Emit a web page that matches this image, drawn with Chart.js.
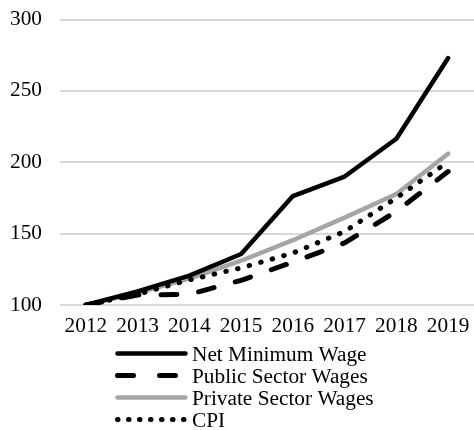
<!DOCTYPE html>
<html><head><meta charset="utf-8">
<script src="https://cdn.jsdelivr.net/npm/chart.js@4.4.1/dist/chart.umd.min.js"></script>
<style>html,body{margin:0;padding:0;background:#fff;overflow:hidden}#wrap{width:474px;height:430px;position:relative}</style>
</head><body><div id="wrap"><canvas id="c" width="474" height="430"></canvas></div>
<script>
const years = ['2012','2013','2014','2015','2016','2017','2018','2019'];
const netMinimumWage = [100, 109.5, 120.6, 135.7, 176.3, 190, 216.5, 273];
const publicSectorWages = [100, 107, 107.5, 117.3, 130, 143.5, 165.5, 193.5];
const privateSectorWages = [100, 108.5, 118.5, 131, 145.4, 161.2, 177.8, 206];
const cpi = [100, 107.5, 117.6, 126, 136.4, 151.5, 175, 200.3];
const seriesNames = ['Net Minimum Wage', 'Public Sector Wages', 'Private Sector Wages', 'CPI'];
const yMin = 100, yMax = 300, yStep = 50;

const FONT = '"Liberation Serif", "Times New Roman", serif';
const FSIZE = 21.3;

const legendPlugin = {
  id: 'vlegend',
  afterDraw(chart) {
    const ctx = chart.ctx;
    const x0 = 117.5, x1 = 185.5, tx = 192;
    chart.data.datasets.forEach((ds, i) => {
      const y = 353.5 + i * 22;
      ctx.save();
      ctx.strokeStyle = ds.borderColor;
      ctx.lineWidth = ds.borderWidth;
      ctx.lineCap = 'round';
      ctx.setLineDash(ds.legendDash || []);
      ctx.beginPath();
      ctx.moveTo(x0, y);
      ctx.lineTo(x1, y);
      ctx.stroke();
      ctx.restore();
      ctx.save();
      ctx.fillStyle = '#000';
      ctx.font = FSIZE + 'px ' + FONT;
      ctx.textBaseline = 'alphabetic';
      ctx.textAlign = 'left';
      ctx.fillText(ds.label, tx, y + 7);
      ctx.restore();
    });
  }
};

new Chart(document.getElementById('c'), {
  type: 'line',
  data: {
    labels: years,
    datasets: [
      { label: seriesNames[0], data: netMinimumWage, borderColor: '#000000', borderWidth: 4.5,
        borderCapStyle: 'round', borderJoinStyle: 'round', pointRadius: 0, order: 1, tension: 0 },
      { label: seriesNames[1], data: publicSectorWages, borderColor: '#000000', borderWidth: 5,
        borderDash: [16, 22], legendDash: [16, 26], borderCapStyle: 'round', borderJoinStyle: 'round', pointRadius: 0, order: 2, tension: 0 },
      { label: seriesNames[2], data: privateSectorWages, borderColor: '#a5a5a5', borderWidth: 4.5,
        borderCapStyle: 'round', borderJoinStyle: 'round', pointRadius: 0, order: 4, tension: 0 },
      { label: seriesNames[3], data: cpi, borderColor: '#000000', borderWidth: 5,
        borderDash: [0.5, 11.5], legendDash: [0.5, 10.5], borderCapStyle: 'round', borderJoinStyle: 'round', pointRadius: 0, order: 3, tension: 0 }
    ]
  },
  options: {
    responsive: false,
    animation: false,
    devicePixelRatio: 1,
    layout: { padding: { top: 19.5, left: 0, right: 0, bottom: 90 } },
    plugins: { legend: { display: false }, tooltip: { enabled: false } },
    scales: {
      x: {
        offset: true,
        grid: { display: false, drawTicks: false },
        border: { display: false },
        ticks: { color: '#000', font: { family: FONT, size: FSIZE }, padding: 9, maxRotation: 0, autoSkip: false },
        afterFit(s) { s.height = 35; s.paddingLeft = 0; s.paddingRight = 0; }
      },
      y: {
        min: yMin, max: yMax,
        grid: { color: '#d9d9d9', lineWidth: 2, drawTicks: false },
        border: { display: false },
        ticks: { stepSize: yStep, color: '#000', font: { family: FONT, size: FSIZE }, padding: 18 },
        afterFit(s) { s.width = 60; s.paddingTop = 0; s.paddingBottom = 0; }
      }
    }
  },
  plugins: [legendPlugin]
});
</script>
</body></html>
